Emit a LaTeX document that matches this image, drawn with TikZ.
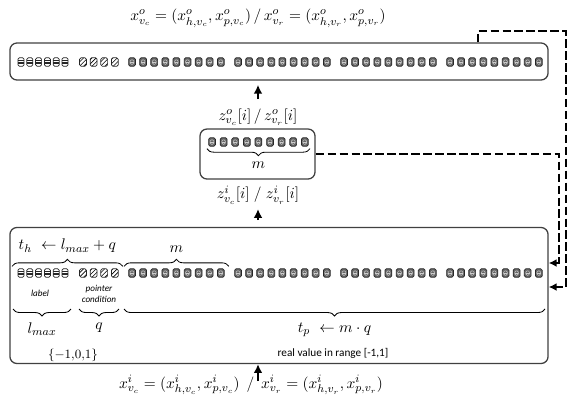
\documentclass[tikz,border=0pt]{standalone}
\usepackage{amsmath}
\usepackage{fontspec}
\newfontfamily\calfont{Carlito}
\usetikzlibrary{arrows.meta, calc, positioning, decorations.pathreplacing, patterns}

\begin{document}
\begin{tikzpicture}[
    x=0.025cm, y=-0.025cm,
    every node/.style={font=\fontsize{11}{13}\selectfont},
    outbox/.style={rectangle, draw=black!75, line width=0.9pt, rounded corners=5pt, inner sep=0pt},
    cellbase/.style={rectangle, draw=black!85, rounded corners=1pt, minimum width=0.17cm, minimum height=0.21cm, inner sep=0pt, line width=0.5pt},
    lblcell/.style={cellbase, minimum width=0.15cm, fill=white, path picture={\foreach \f in {0.3,0.5,0.7} \draw[line width=0.4pt] ($(path picture bounding box.south west)!\f!(path picture bounding box.north west)$) -- ($(path picture bounding box.south east)!\f!(path picture bounding box.north east)$);}},
    ptrcell/.style={cellbase, pattern=north east lines},
    realcell/.style={cellbase, fill=black!60, path picture={\draw[white!80!black, line width=0.35pt] ([xshift=-1.3pt,yshift=-1.6pt]path picture bounding box.center) rectangle ([xshift=1.3pt,yshift=1.6pt]path picture bounding box.center); \draw[white!80!black, line width=0.35pt] ([xshift=-1.3pt]path picture bounding box.center) -- ([xshift=1.3pt]path picture bounding box.center);}},
    brc/.style={decorate, decoration={brace, amplitude=5pt}, line width=0.6pt},
    uparr/.style={-{Latex[length=2.2mm, width=2.2mm]}, line width=1.4pt},
    fbarr/.style={-{Latex[length=2mm, width=2mm]}, line width=2pt, dash pattern=on 6pt off 2.5pt},
    small/.style={font=\calfont\itshape\fontsize{6.5}{7.5}\selectfont, align=center, inner sep=0pt},
    note/.style={font=\calfont\fontsize{8}{9.5}\selectfont, inner sep=0pt}
]
    \useasboundingbox (0,0) rectangle (569,403);

    % Output vector
    \node (xout) at (258,18) {$x^o_{v_c} = (x^o_{h,v_c}, x^o_{p,v_c})\,/\,x^o_{v_r} = (x^o_{h,v_r}, x^o_{p,v_r})$};
    \node[outbox, minimum width=13.45cm, minimum height=0.925cm] (top) at (279,61.5) {};
    \foreach \k in {0,...,5} \node[lblcell] (tl\k) at (21+\k*8.8, 62) {};
    \foreach \k in {0,...,3} \node[ptrcell] (tp\k) at (83+\k*10.6, 62) {};
    \foreach \g in {0,...,3}
        \foreach \j in {0,...,8} \node[realcell] (tr\g\j) at (132+\g*106+\j*11.1, 62) {};

    % Hidden layer
    \node (zo) at (258,117) {$z^o_{v_c}[i]\,/\,z^o_{v_r}[i]$};
    \node[outbox, minimum width=2.875cm, minimum height=1.25cm] (mid) at (257.5,154) {};
    \foreach \j in {0,...,8} \node[realcell] (mr\j) at (212+\j*11.6, 142) {};
    \draw[brc] ([xshift=1pt,yshift=-1.5pt]mr8.south east) -- node[below=6pt] (mm) {$m$} ([xshift=-1pt,yshift=-1.5pt]mr0.south west);
    \node (zi) at (258,195) {$z^i_{v_c}[i]\;/\;z^i_{v_r}[i]$};

    % Input vector
    \node[outbox, minimum width=13.45cm, minimum height=3.4cm] (bot) at (279,295.5) {};
    \foreach \k in {0,...,5} \node[lblcell] (bl\k) at (21+\k*8.8, 273) {};
    \foreach \k in {0,...,3} \node[ptrcell] (bp\k) at (83+\k*10.6, 273) {};
    \foreach \g in {0,...,3}
        \foreach \j in {0,...,8} \node[realcell] (br\g\j) at (132+\g*106+\j*11.1, 273) {};

    \draw[brc] ([xshift=-4pt,yshift=1.5pt]bl0.north west) -- node[above=6pt] (th) {$t_h\ \leftarrow l_{max} + q$} ([xshift=3pt,yshift=1.5pt]bp3.north east);
    \draw[brc] ([xshift=-3pt,yshift=1.5pt]br00.north west) -- node[above=6pt] (bm) {$m$} ([xshift=3pt,yshift=1.5pt]br08.north east);

    \node[small] (lbl) at (40,293) {label};
    \node[small] (ptr) at (99,294) {pointer\\condition};

    \draw[brc] (71,309) -- node[below=6pt] (lmax) {$l_{max}$} (13,309);
    \draw[brc] (119,309) -- node[below=6pt] (qq) {$q$} (79,309);
    \draw[brc] (545,309) -- node[below=6pt] (tpq) {$t_p\ \leftarrow m\cdot q$} (124,309);
    \node[font=\fontsize{9}{11}\selectfont] (rng) at (73,355) {$\{-1{,}0{,}1\}$};
    \node[note] (real) at (333,353) {real value in range [-1,1]};

    \node (xin) at (251,385) {$x^i_{v_c} = (x^i_{h,v_c}, x^i_{p,v_c})\;\,/\;\,x^i_{v_r} = (x^i_{h,v_r}, x^i_{p,v_r})$};
    \coordinate (xinarr) at (258,381);
    \coordinate (ziarr) at (258,220);
    \coordinate (zoarr) at (258,99);

    % Connectors
    \draw[uparr] (xinarr) -- (bot.south -| xinarr);
    \draw[uparr] (ziarr) -- (ziarr |- zi.south);
    \draw[uparr, shorten >=3pt] (zoarr) -- (top.south -| zoarr);

    \draw[fbarr] (top.north -| 478,0) |- (566,31) |- (bot.east |- 0,287);
    \draw[fbarr] (mid.east) -| (559,263) -- (bot.east |- 0,263);

\end{tikzpicture}
\end{document}
